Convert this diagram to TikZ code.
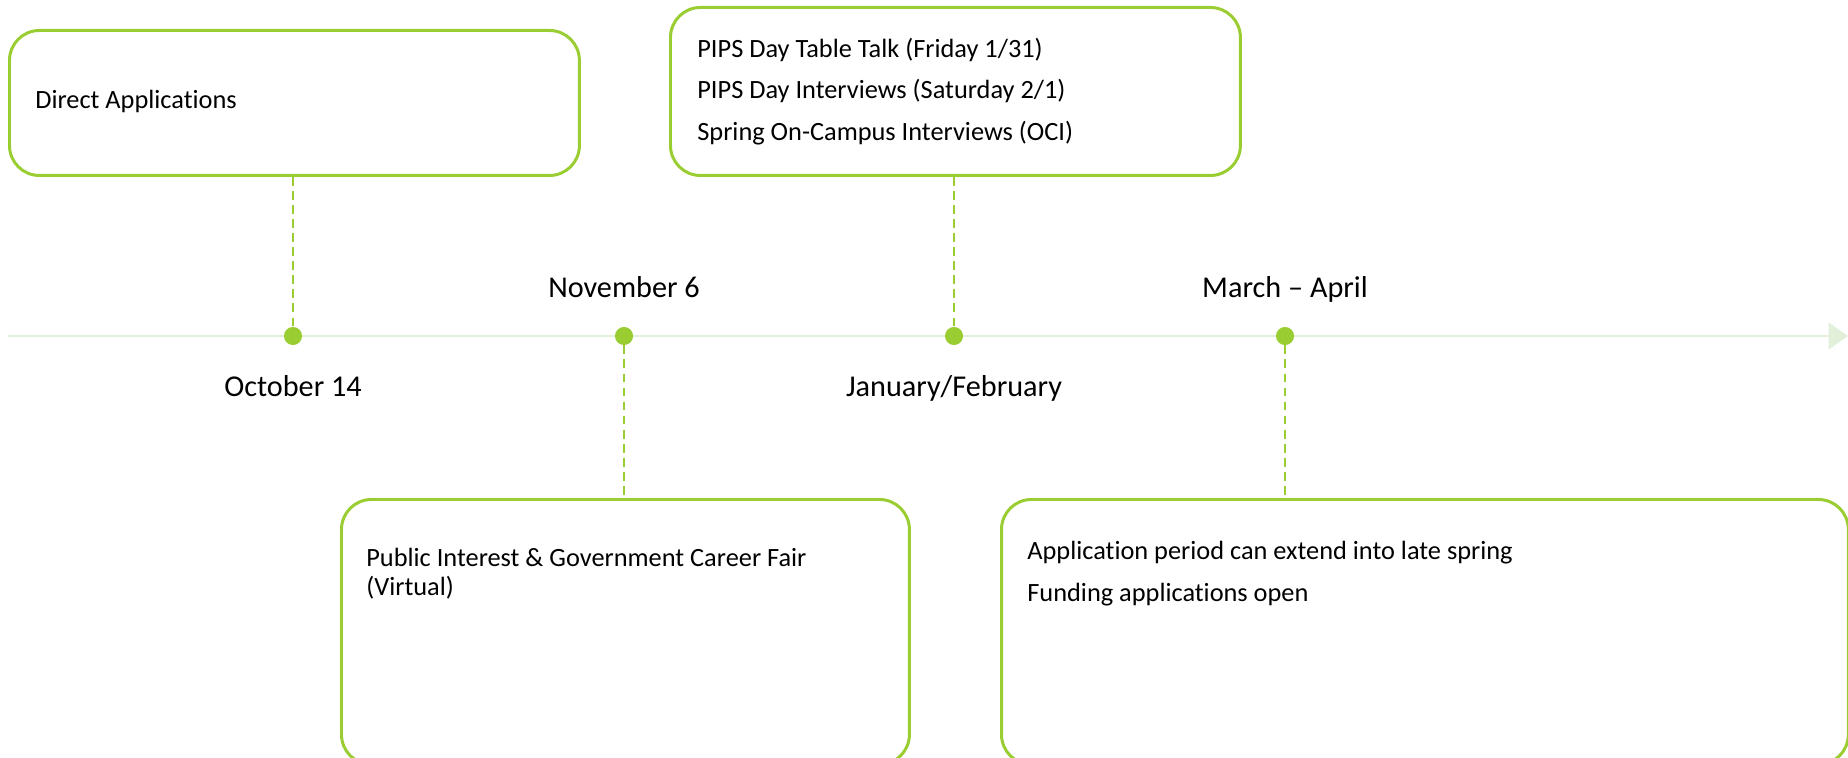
\documentclass[tikz,border=0pt]{standalone}
\usepackage{fontspec}
\setmainfont{Carlito}[Ligatures=NoCommon]
\usetikzlibrary{arrows.meta}
\definecolor{leaf}{RGB}{154,205,50}
\definecolor{stem}{RGB}{226,239,217}
\begin{document}
\begin{tikzpicture}[x=0.02cm, y=-0.02cm,
   box/.style={draw=leaf, line width=1.7pt, rounded corners=17pt, anchor=north west, inner sep=0pt},
   note/.style={anchor=base west, align=left, inner sep=0pt, font=\fontsize{15}{23.6}\selectfont},
   when/.style={anchor=base, inner sep=0pt, font=\fontsize{17.2}{20}\selectfont},
   dot/.style={circle, fill=leaf, inner sep=0pt, minimum size=10.3pt},
   link/.style={draw=leaf, line width=1.3pt, dash pattern=on 5pt off 3pt}]
	\useasboundingbox (0,0) rectangle (1848,757);

	% time line
	\coordinate (start) at (8,336);
	\coordinate (end) at (1848,336);
	\draw [stem, line width=1.7pt, -{Triangle[length=11pt, width=15pt]}] (start) -- (end);

	\foreach \name/\x in {d1/293, d2/624, d3/954, d4/1285}
	  \node [dot] (\name) at (\x,336) {};

	% boxes
	\node [box, minimum width=11.4cm, minimum height=2.9cm] (b1) at (8,29) {};
	\node [box, minimum width=11.4cm, minimum height=3.36cm] (b2) at (669,6) {};
	\node [box, minimum width=11.36cm, minimum height=5.3cm] (b3) at (340,498) {};
	\node [box, minimum width=16.94cm, minimum height=5.3cm] (b4) at (1000,498) {};

	% texts (base = last line)
	\node [note] (t1) at (35,109) {Direct Applications};
	\node [note] (t2) at (697,140) {PIPS Day Table Talk (Friday 1/31)\\PIPS Day Interviews (Saturday 2/1)\\Spring On-Campus Interviews (OCI)};
	\node [note, font=\fontsize{15}{16.5}\selectfont] (t3) at (366,595) {Public Interest \& Government Career Fair\\(Virtual)};
	\node [note] (t4) at (1027,601) {Application period can extend into late spring\\Funding applications open};

	% dates
	\node [when] (w1) at (293,396) {October 14};
	\node [when] (w2) at (624,297) {November 6};
	\node [when] (w3) at (954,396) {January/February};
	\node [when] (w4) at (1285,297) {March -- April};

	% links
	\draw [link] (b1.south -| d1) -- (d1);
	\draw [link] (b2.south -| d3) -- (d3);
	\draw [link] (d2) -- (d2 |- b3.north);
	\draw [link] (d4) -- (d4 |- b4.north);
\end{tikzpicture}
\end{document}
